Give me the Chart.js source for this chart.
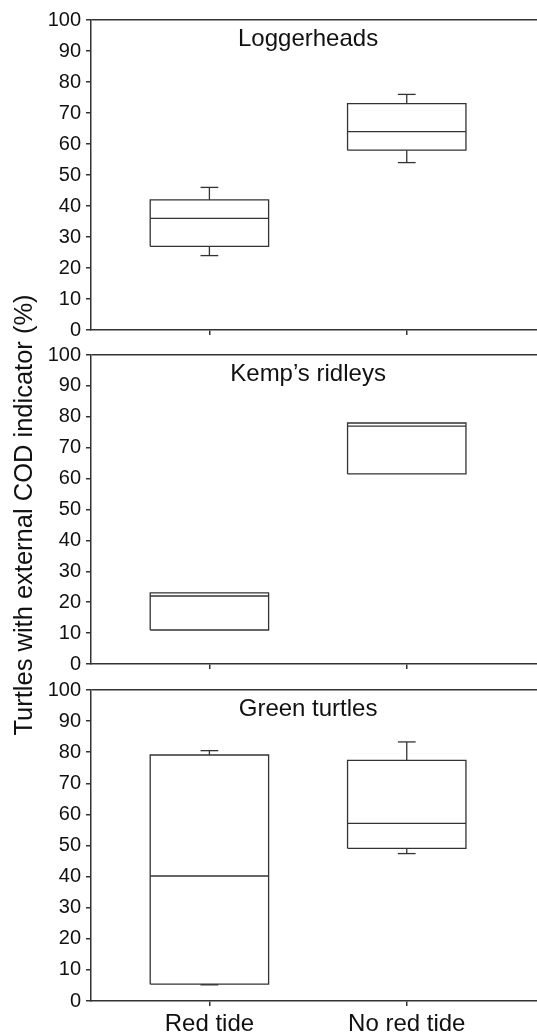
<!DOCTYPE html>
<html lang="en">
<head>
    <meta charset="UTF-8">
    <title>Turtles with external COD indicator</title>
    <script src="https://cdn.jsdelivr.net/npm/chart.js"></script>
    <style>
        body { margin: 0; background: #fff; }
        #wrap { position: relative; width: 537px; height: 1034px; overflow: hidden; }
        .panel { position: absolute; left: 0; width: 537px; }
        #yTitle {
            position: absolute; left: -277px; top: 500px; width: 600px; height: 30px;
            line-height: 30px; text-align: center; white-space: nowrap;
            font-family: "Liberation Sans", Arial, sans-serif; font-size: 25.5px; color: #111;
            transform: rotate(-90deg); transform-origin: 50% 50%;
        }
    </style>
</head>
<body>
<div id="wrap">
    <div class="panel" style="top:0px;height:360px"><canvas id="c0"></canvas></div>
    <div class="panel" style="top:330px;height:360px"><canvas id="c1"></canvas></div>
    <div class="panel" style="top:660px;height:374px"><canvas id="c2"></canvas></div>
    <div id="yTitle">Turtles with external COD indicator (%)</div>
</div>
<script>
    // 데이터
    const categories = ['Red tide', 'No red tide'];
    const panelTitles = ['Loggerheads', 'Kemp\u2019s ridleys', 'Green turtles'];
    // [lower whisker, Q1, median, Q3, upper whisker] per category
    const loggerheadStats = [[24, 27, 36, 42, 46], [54, 58, 64, 73, 76]];
    const kempStats = [[11, 11, 22, 23, 23], [61.5, 61.5, 77, 78, 78]];
    const greenStats = [[5.2, 5.4, 40.2, 79.1, 80.5], [47.4, 49.1, 57.1, 77.4, 83.3]];
    const yTicks = [0, 10, 20, 30, 40, 50, 60, 70, 80, 90, 100];

    const FONT = '"Liberation Sans", Arial, sans-serif';
    const INK = '#333';
    const BOX_HALF = 0.3;
    const CAP_HALF = 0.045;

    function seg(points) {
        return {
            type: 'line',
            data: points.map(p => ({ x: p[0], y: p[1] })),
            borderColor: INK,
            borderWidth: 1.3,
            pointRadius: 0,
            fill: false,
            tension: 0
        };
    }

    function boxDatasets(stats) {
        const sets = [];
        stats.forEach((s, i) => {
            const x = i + 1;
            const [lo, q1, med, q3, hi] = s;
            if (hi > q3) {
                sets.push(seg([[x, q3], [x, hi]]));
                sets.push(seg([[x - CAP_HALF, hi], [x + CAP_HALF, hi]]));
            }
            if (lo < q1) {
                sets.push(seg([[x, q1], [x, lo]]));
                sets.push(seg([[x - CAP_HALF, lo], [x + CAP_HALF, lo]]));
            }
            sets.push(seg([[x - BOX_HALF, q1], [x + BOX_HALF, q1], [x + BOX_HALF, q3], [x - BOX_HALF, q3], [x - BOX_HALF, q1]]));
            sets.push(seg([[x - BOX_HALF, med], [x + BOX_HALF, med]]));
        });
        return sets;
    }

    // 패널 제목 (두 범주 사이 가운데)
    const panelTitlePlugin = {
        id: 'panelTitle',
        afterDraw(chart, args, opts) {
            const ctx = chart.ctx;
            const x = chart.scales.x.getPixelForValue(1.5);
            ctx.save();
            ctx.font = '24px ' + FONT;
            ctx.fillStyle = '#111';
            ctx.textAlign = 'center';
            ctx.textBaseline = 'alphabetic';
            ctx.fillText(opts.text, x, chart.chartArea.top + 26);
            ctx.restore();
        }
    };

    function makePanel(id, title, stats, pad, xHeight, showLabels) {
        const ctx = document.getElementById(id).getContext('2d');
        return new Chart(ctx, {
            data: { datasets: boxDatasets(stats) },
            options: {
                responsive: true,
                maintainAspectRatio: false,
                animation: false,
                layout: { padding: { top: pad, left: 0, right: 0, bottom: 0 } },
                plugins: {
                    legend: { display: false },
                    tooltip: { enabled: false },
                    panelTitle: { text: title }
                },
                scales: {
                    x: {
                        type: 'linear',
                        min: 0.4,
                        max: 2.66,
                        afterBuildTicks: s => { s.ticks = categories.map((c, i) => ({ value: i + 1 })); },
                        afterFit: s => { s.height = xHeight; },
                        ticks: {
                            autoSkip: false,
                            maxRotation: 0,
                            padding: 4,
                            color: '#111',
                            font: { family: FONT, size: 24 },
                            callback: v => showLabels ? categories[v - 1] : ''
                        },
                        grid: { drawOnChartArea: false, tickLength: 5, tickColor: INK, lineWidth: 1.5 },
                        border: { color: INK, width: 1.5 }
                    },
                    y: {
                        min: 0,
                        max: 100,
                        afterBuildTicks: s => { s.ticks = yTicks.map(v => ({ value: v })); },
                        afterFit: s => { s.width = 91; },
                        ticks: {
                            padding: 5,
                            color: '#111',
                            font: { family: FONT, size: 20 }
                        },
                        grid: {
                            drawOnChartArea: true,
                            color: c => (c.tick && c.tick.value === 100) ? INK : 'rgba(0,0,0,0)',
                            tickColor: INK,
                            tickLength: 5,
                            lineWidth: 1.5
                        },
                        border: { color: INK, width: 1.5 }
                    }
                }
            },
            plugins: [panelTitlePlugin]
        });
    }

    makePanel('c0', panelTitles[0], loggerheadStats, 20, 30, false);
    makePanel('c1', panelTitles[1], kempStats, 25, 26, false);
    makePanel('c2', panelTitles[2], greenStats, 30, 33, true);
</script>
</body>
</html>
